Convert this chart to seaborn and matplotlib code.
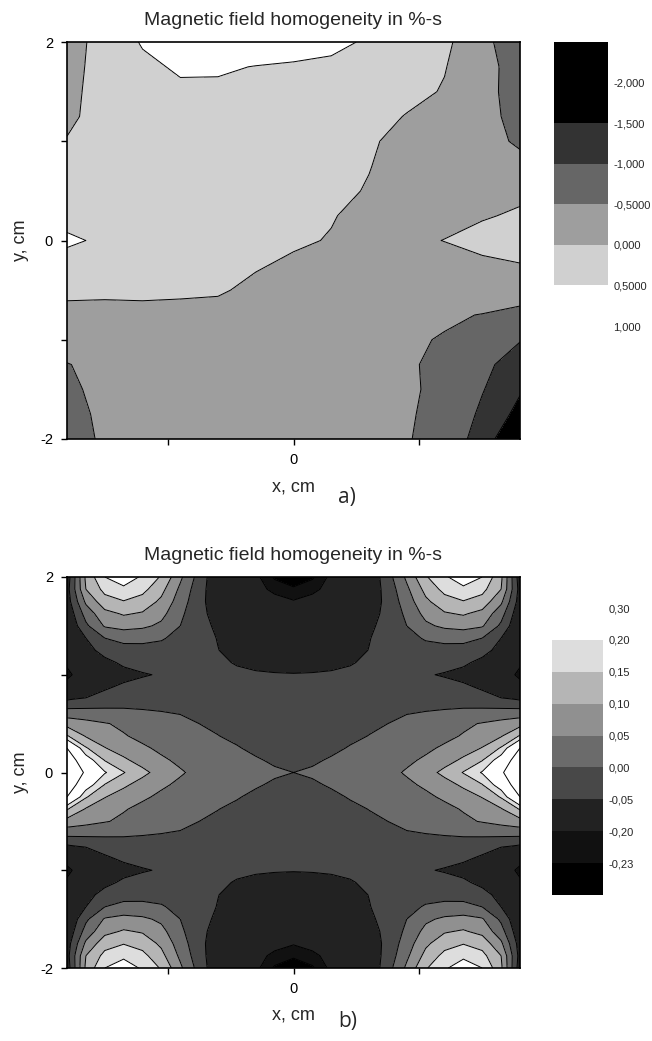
import numpy as np
import matplotlib
matplotlib.use("Agg")
import matplotlib.pyplot as plt
from matplotlib.colors import ListedColormap, BoundaryNorm
from matplotlib.cm import ScalarMappable
import seaborn as sns

sns.set_style("ticks")
plt.rcParams['font.family'] = ['Liberation Sans', 'DejaVu Sans']

xa = [-1.8, -1.5, -1.2, -0.9, -0.6, -0.3, 0.0, 0.3, 0.6, 0.9, 1.2, 1.5, 1.8]
ya = [2.0, 1.75, 1.5, 1.25, 1.0, 0.75, 0.5, 0.25, 0.0,
      -0.25, -0.5, -0.75, -1.0, -1.25, -1.5, -1.75, -2.0]
za = [
    [-0.20, 0.18, 0.54, 0.70, 0.75, 0.72, 0.70, 0.60, 0.45, 0.30, 0.10, -0.35, -0.85],
    [-0.15, 0.17, 0.40, 0.56, 0.54, 0.49, 0.45, 0.42, 0.35, 0.20, 0.02, -0.30, -0.75],
    [-0.10, 0.15, 0.30, 0.42, 0.44, 0.40, 0.38, 0.33, 0.25, 0.12, -0.03, -0.35, -0.70],
    [-0.08, 0.16, 0.25, 0.32, 0.34, 0.32, 0.30, 0.25, 0.15, -0.02, -0.20, -0.40, -0.60],
    [0.02, 0.15, 0.22, 0.26, 0.28, 0.27, 0.24, 0.18, 0.04, -0.10, -0.25, -0.38, -0.55],
    [0.08, 0.16, 0.22, 0.25, 0.26, 0.24, 0.20, 0.12, 0.01, -0.12, -0.22, -0.30, -0.40],
    [0.12, 0.17, 0.22, 0.24, 0.24, 0.21, 0.15, 0.07, -0.02, -0.15, -0.20, -0.18, -0.10],
    [0.25, 0.20, 0.22, 0.22, 0.20, 0.16, 0.08, 0.02, -0.10, -0.18, -0.15, -0.04, 0.06],
    [0.62, 0.38, 0.30, 0.22, 0.18, 0.12, 0.05, -0.02, -0.15, -0.10, 0.01, 0.15, 0.20],
    [0.20, 0.18, 0.17, 0.16, 0.12, 0.03, -0.06, -0.12, -0.22, -0.25, -0.20, -0.10, -0.02],
    [0.06, 0.05, 0.06, 0.05, 0.04, -0.08, -0.18, -0.22, -0.28, -0.33, -0.32, -0.30, -0.25],
    [-0.08, -0.08, -0.08, -0.09, -0.12, -0.20, -0.30, -0.33, -0.38, -0.42, -0.46, -0.51, -0.64],
    [-0.25, -0.22, -0.20, -0.20, -0.22, -0.26, -0.30, -0.34, -0.38, -0.46, -0.52, -0.75, -0.98],
    [-0.52, -0.35, -0.30, -0.28, -0.28, -0.30, -0.33, -0.36, -0.40, -0.485, -0.53, -0.90, -1.20],
    [-0.62, -0.33, -0.30, -0.30, -0.30, -0.32, -0.35, -0.38, -0.42, -0.47, -0.55, -0.97, -1.45],
    [-0.75, -0.35, -0.30, -0.30, -0.30, -0.33, -0.36, -0.39, -0.43, -0.48, -0.56, -1.10, -1.65],
    [-0.85, -0.38, -0.30, -0.30, -0.30, -0.33, -0.36, -0.40, -0.44, -0.48, -0.62, -1.25, -2.00],
]
levels_a = [-2.5, -1.5, -1.0, -0.5, 0.0, 0.5, 1.0]
colors_a = ['#000000', '#333333', '#666666', '#9e9e9e', '#d0d0d0', '#ffffff']
ticks_a = [-2.0, -1.5, -1.0, -0.5, 0.0, 0.5, 1.0]
ticklabels_a = ['-2,000', '-1,500', '-1,000', '-0,5000', '0,000', '0,5000', '1,000']

# ---- panel b: upper-left quadrant (x from -1.8 to 0, rows from y=2 down to y=0);
# the map in the picture is mirror symmetric in x and in y
xb = [-1.8, -1.65, -1.5, -1.35, -1.2, -1.05, -0.9, -0.75, -0.6, -0.45, -0.3, -0.15, 0.0]
yb = [2.0, 1.875, 1.75, 1.625, 1.5, 1.375, 1.25, 1.125, 1.0,
      0.875, 0.75, 0.625, 0.5, 0.375, 0.25, 0.125, 0.0]
zb_quad = [
    [-0.08, 0.11, 0.20, 0.24, 0.19, 0.145, 0.06, -0.02, -0.09, -0.14, -0.19, -0.235, -0.25],
    [-0.07, 0.10, 0.165, 0.185, 0.165, 0.115, 0.04, -0.03, -0.085, -0.13, -0.185, -0.21, -0.225],
    [-0.075, 0.06, 0.13, 0.148, 0.13, 0.09, 0.025, -0.035, -0.08, -0.12, -0.155, -0.185, -0.197],
    [-0.09, 0.02, 0.085, 0.105, 0.095, 0.065, 0.01, -0.035, -0.07, -0.11, -0.14, -0.165, -0.175],
    [-0.10, -0.01, 0.055, 0.068, 0.06, 0.04, 0.0, -0.035, -0.058, -0.10, -0.125, -0.145, -0.155],
    [-0.12, -0.05, 0.0, 0.012, 0.01, 0.004, -0.012, -0.032, -0.052, -0.08, -0.10, -0.115, -0.12],
    [-0.15, -0.07, -0.03, -0.015, -0.012, -0.014, -0.022, -0.035, -0.049, -0.065, -0.078, -0.087, -0.09],
    [-0.19, -0.11, -0.065, -0.04, -0.028, -0.025, -0.028, -0.034, -0.043, -0.053, -0.06, -0.064, -0.065],
    [-0.215, -0.16, -0.10, -0.068, -0.055, -0.045, -0.038, -0.036, -0.038, -0.042, -0.045, -0.047, -0.048],
    [-0.175, -0.13, -0.058, -0.04, -0.03, -0.026, -0.025, -0.026, -0.028, -0.03, -0.032, -0.034, -0.035],
    [-0.055, -0.04, -0.028, -0.02, -0.016, -0.014, -0.014, -0.015, -0.017, -0.02, -0.022, -0.024, -0.025],
    [0.016, 0.013, 0.01, 0.007, 0.003, 0.0, -0.004, -0.008, -0.011, -0.014, -0.016, -0.018, -0.019],
    [0.081, 0.066, 0.053, 0.042, 0.032, 0.024, 0.012, 0.0, -0.005, -0.009, -0.012, -0.014, -0.015],
    [0.154, 0.095, 0.074, 0.053, 0.04, 0.03, 0.022, 0.012, 0.0005, -0.006, -0.01, -0.013, -0.014],
    [0.30, 0.155, 0.102, 0.078, 0.056, 0.0425, 0.032, 0.022, 0.012, 0.002, -0.006, -0.01, -0.012],
    [0.36, 0.235, 0.148, 0.109, 0.081, 0.056, 0.043, 0.033, 0.023, 0.013, 0.003, -0.004, -0.006],
    [0.38, 0.288, 0.205, 0.153, 0.113, 0.08, 0.054, 0.04, 0.028, 0.018, 0.01, 0.004, 0.0],
]
levels_b = [-0.26, -0.23, -0.20, -0.05, 0.00, 0.05, 0.10, 0.15, 0.20, 0.30]
colors_b = ['#000000', '#111111', '#222222', '#484848', '#6b6b6b',
            '#909090', '#b5b5b5', '#dddddd', '#ffffff']
ticklabels_b = ['-0,23', '-0,20', '-0,05', '0,00', '0,05', '0,10', '0,15', '0,20', '0,30']

title = 'Magnetic field homogeneity in %-s'

# full grid for b from the quadrant (mirror in x, then in y)
q = np.array(zb_quad)
top = np.hstack([q, q[:, -2::-1]])
zb = np.vstack([top, top[-2::-1, :]])
xb_full = np.array(xb + [-v for v in xb[-2::-1]])
yb_full = np.array(yb + [-v for v in yb[-2::-1]])

W, H = 652, 1041
fig = plt.figure(figsize=(W / 100, H / 100), dpi=100)


def frac(l, t, r, b):
    return [l / W, 1 - b / H, (r - l) / W, (b - t) / H]


def draw_map(ax, x, y, z, fill_levels, fill_colors, line_levels):
    X, Y = np.meshgrid(x, y)
    ax.contourf(X, Y, z, levels=fill_levels, colors=fill_colors)
    ax.contour(X, Y, z, levels=line_levels, colors='black', linewidths=0.7,
               linestyles='solid')
    ax.set_xlim(-1.8, 1.8)
    ax.set_ylim(-2, 2)
    ax.set_xticks([-1, 0, 1])
    ax.set_xticklabels(['', '0', ''])
    ax.set_yticks([-2, -1, 0, 1, 2])
    ax.set_yticklabels(['-2', '', '0', '', '2'])
    ax.tick_params(direction='out', length=4, width=1, colors='black', labelsize=10.5)
    ax.tick_params(axis='x', pad=6)
    ax.tick_params(axis='y', pad=6)
    for s in ax.spines.values():
        s.set_color('black')
        s.set_linewidth(1.2)
    ax.set_title(title, fontsize=14, pad=12)
    ax.set_xlabel('x, cm', fontsize=13, labelpad=8)
    ax.set_ylabel('y, cm', fontsize=13, labelpad=8)


# panel a
ax_a = fig.add_axes(frac(67, 42, 520, 439))
draw_map(ax_a, xa, ya, np.array(za), levels_a, colors_a, levels_a[1:-1])

cax_a = fig.add_axes(frac(554, 42, 608, 326))
sm_a = ScalarMappable(norm=BoundaryNorm(levels_a, len(colors_a)), cmap=ListedColormap(colors_a))
cb_a = fig.colorbar(sm_a, cax=cax_a, boundaries=levels_a, spacing='proportional', ticks=ticks_a)
cb_a.set_ticklabels(ticklabels_a)
cax_a.invert_yaxis()

# panel b
ax_b = fig.add_axes(frac(67, 577, 520, 968))
draw_map(ax_b, xb_full, yb_full, zb, levels_b + [0.45], colors_b + ['#ffffff'], levels_b[1:])

cax_b = fig.add_axes(frac(552, 608, 603, 895))
sm_b = ScalarMappable(norm=BoundaryNorm(levels_b, len(colors_b)), cmap=ListedColormap(colors_b))
cb_b = fig.colorbar(sm_b, cax=cax_b, boundaries=levels_b, spacing='uniform', ticks=levels_b[1:])
cb_b.set_ticklabels(ticklabels_b)

for cb in (cb_a, cb_b):
    cb.outline.set_visible(False)
    cb.ax.minorticks_off()
    cb.ax.tick_params(length=0, labelsize=8, pad=4)

fig.text(347 / W, 1 - 497 / H, 'a)', fontsize=15, family=['Open Sans', 'DejaVu Sans'],
         ha='center', va='center')
fig.text(348 / W, 1 - 1021 / H, 'b)', fontsize=15, family=['Open Sans', 'DejaVu Sans'],
         ha='center', va='center')

fig.savefig('out.png', dpi=100)
